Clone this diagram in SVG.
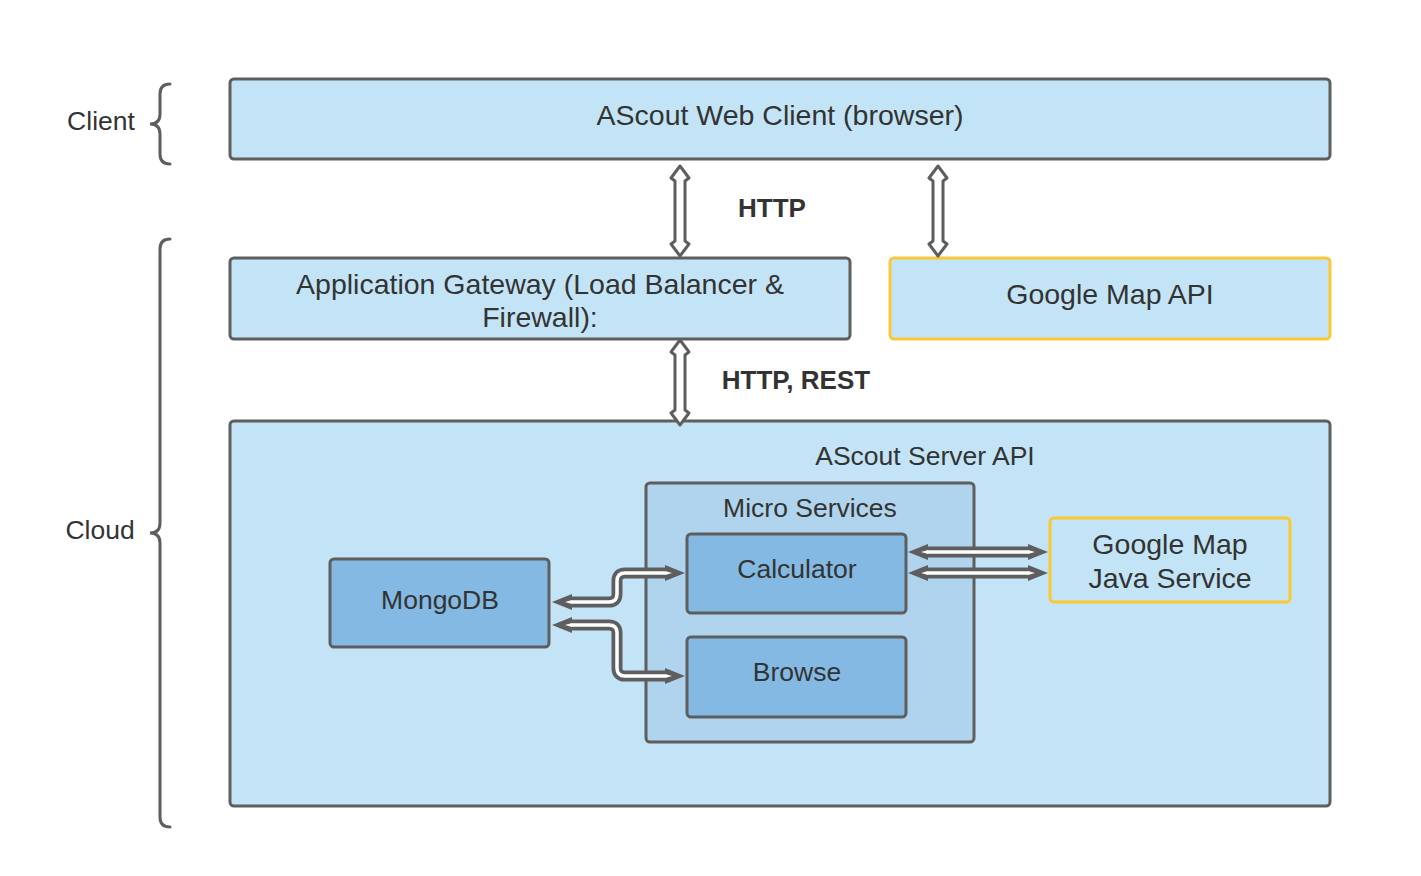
<svg xmlns="http://www.w3.org/2000/svg" width="1421" height="876" viewBox="0 0 1421 876">
<style>
text{font-family:"Liberation Sans",Arial,sans-serif;fill:#333;text-anchor:middle}
.big{font-size:28.5px}
.med{font-size:26.5px}
.lbl{font-size:26px;font-weight:bold}
.box{stroke:#5e5e5e;stroke-width:3}
.l1{fill:#c3e4f6}
.l2{fill:#b1d4ee}
.l3{fill:#84b9e3}
.yel{fill:#c3e4f6;stroke:#fbc735;stroke-width:3}
.brace{fill:none;stroke:#5e5e5e;stroke-width:3;stroke-linecap:round}
.harrow{fill:#fff;stroke:#5e5e5e;stroke-width:3;stroke-linejoin:round}
.outer{fill:none;stroke:#5e5e5e;stroke-width:11;marker-start:url(#hd);marker-end:url(#hd)}
.inner{fill:none;stroke:#fff;stroke-width:3.5}
</style>
<defs>
<marker id="hd" markerUnits="userSpaceOnUse" markerWidth="22" markerHeight="20" viewBox="0 -10 22 20" refX="0" refY="0" orient="auto-start-reverse" overflow="visible">
<path d="M0,-8 L20,0 L0,8 Z" fill="#5e5e5e"/>
<path d="M0,-2 L7,0 L0,2 Z" fill="#fff"/>
</marker>
<path id="c1" d="M572,602 L609,602 Q617,602 617,594 L617,581 Q617,573 625,573 L665,573"/>
<path id="c2" d="M572,625 L609,625 Q617,625 617,633 L617,668 Q617,676 625,676 L665,676"/>
<path id="c3" d="M928,552 L1028,552"/>
<path id="c4" d="M928,573 L1028,573"/>
</defs>
<rect width="1421" height="876" fill="#fff"/>

<g id="client-label">
<path class="brace" d="M170,84 Q160,84 160,94 L160,114 Q160,124 150,124 Q160,124 160,134 L160,154 Q160,164 170,164"/>
<text class="med" x="101" y="130">Client</text>
</g>
<g id="cloud-label">
<path class="brace" d="M170,239 Q160,239 160,249 L160,523 Q160,533 150,533 Q160,533 160,543 L160,817 Q160,827 170,827"/>
<text class="med" x="100" y="539">Cloud</text>
</g>

<g id="web-client">
<rect class="box l1" x="230" y="79" width="1100" height="80" rx="4"/>
<text class="big" x="780" y="125">AScout Web Client (browser)</text>
</g>
<g id="gateway">
<rect class="box l1" x="230" y="258" width="620" height="81" rx="4"/>
<text class="big" x="540" y="294">Application Gateway (Load Balancer &amp;</text>
<text class="big" x="540" y="327">Firewall):</text>
</g>
<g id="google-map-api">
<rect class="yel" x="890" y="258" width="440" height="81" rx="4"/>
<text class="big" x="1110" y="304">Google Map API</text>
</g>
<g id="server-api">
<rect class="box l1" x="230" y="421" width="1100" height="385" rx="4"/>
<text class="med" x="925" y="465">AScout Server API</text>
</g>
<g id="micro-services">
<rect class="box l2" x="646" y="483" width="328" height="259" rx="4"/>
<text class="med" x="810" y="517">Micro Services</text>
</g>
<g id="calculator">
<rect class="box l3" x="687" y="534" width="219" height="79" rx="4"/>
<text class="med" x="797" y="578">Calculator</text>
</g>
<g id="browse">
<rect class="box l3" x="687" y="637" width="219" height="80" rx="4"/>
<text class="med" x="797" y="681">Browse</text>
</g>
<g id="mongodb">
<rect class="box l3" x="330" y="559" width="219" height="88" rx="4"/>
<text class="med" x="440" y="609">MongoDB</text>
</g>
<g id="google-map-java">
<rect class="yel" x="1050" y="518" width="240" height="84" rx="4"/>
<text class="big" x="1170" y="554">Google Map</text>
<text class="big" x="1170" y="588">Java Service</text>
</g>

<g id="connectors">
<path class="harrow" d="M680,166 L689,178 L685,181 L685,241 L689,244 L680,256 L671,244 L675,241 L675,181 L671,178 Z"/>
<path class="harrow" d="M938,166 L947,178 L943,181 L943,241 L947,244 L938,256 L929,244 L933,241 L933,181 L929,178 Z"/>
<path class="harrow" d="M680,340 L689,352 L685,355 L685,410 L689,413 L680,425 L671,413 L675,410 L675,355 L671,352 Z"/>
<text class="lbl" x="772" y="217">HTTP</text>
<text class="lbl" x="796" y="389">HTTP, REST</text>
<use href="#c1" class="outer"/><use href="#c1" class="inner"/>
<use href="#c2" class="outer"/><use href="#c2" class="inner"/>
<use href="#c3" class="outer"/><use href="#c3" class="inner"/>
<use href="#c4" class="outer"/><use href="#c4" class="inner"/>
</g>
</svg>
